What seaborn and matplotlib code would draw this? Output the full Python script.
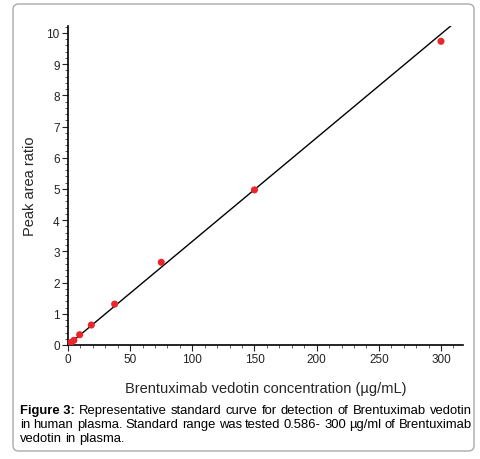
import numpy as np
import pandas as pd
import matplotlib
matplotlib.use("Agg")
import matplotlib.pyplot as plt
import seaborn as sns
from matplotlib.patches import FancyBboxPatch
from matplotlib.ticker import MultipleLocator

# standard curve data
conc = [0.586, 1.17, 2.34, 4.69, 9.38, 18.75, 37.5, 75, 150, 300]
ratio = [0.02, 0.04, 0.08, 0.15, 0.33, 0.64, 1.31, 2.65, 4.97, 9.73]

# fitted line end points
fit_x = [0, 309]
fit_y = [0.0, 10.26]

x_ticks = [0, 50, 100, 150, 200, 250, 300]
y_ticks = list(range(0, 11))

sns.set_style("ticks")
plt.rcParams['font.family'] = ['Liberation Sans', 'DejaVu Sans']

df = pd.DataFrame({'conc': conc, 'ratio': ratio})
fit_df = pd.DataFrame({'x': fit_x, 'y': fit_y})

fig = plt.figure(figsize=(4.81, 4.60), dpi=100)
ax = fig.add_axes([68/481, 114/460, 395/481, 319/460])

sns.lineplot(data=fit_df, x='x', y='y', color='black', linewidth=1.0, ax=ax)
sns.scatterplot(data=df, x='conc', y='ratio', color='#e8262b', s=26,
                edgecolor='none', ax=ax, zorder=3)

ax.set_xlim(0, 317.7)
ax.set_ylim(0, 10.22)
ax.set_xticks(x_ticks)
ax.set_yticks(y_ticks)
ax.xaxis.set_minor_locator(MultipleLocator(10))
ax.yaxis.set_minor_locator(MultipleLocator(0.2))
ax.tick_params(which='major', length=4, width=0.8, labelsize=8.5,
               colors='#222222', pad=2)
ax.tick_params(which='minor', length=2, width=0.6, colors='#444444')
sns.despine(ax=ax)
for s in ['left', 'bottom']:
    ax.spines[s].set_linewidth(1.2)
    ax.spines[s].set_color('black')

ax.set_xlabel('Brentuximab vedotin concentration (µg/mL)', fontsize=10.5)
ax.set_ylabel('Peak area ratio', fontsize=10.5)
ax.xaxis.set_label_coords(0.5, -0.112)
ax.yaxis.set_label_coords(-0.078, 0.5)

# rounded frame around figure and caption
box = FancyBboxPatch((13/481, 8/460), 461/481, 447/460,
                     boxstyle='round,pad=0,rounding_size=0.012',
                     transform=fig.transFigure, facecolor='none',
                     edgecolor='#aaaaaa', linewidth=1.0)
fig.patches.append(box)

# caption with justified lines
cap_lines = [
    [("Figure 3:", 'bold')] + [(w, 'normal') for w in
        "Representative standard curve for detection of Brentuximab vedotin".split()],
    [(w, 'normal') for w in
        "in human plasma. Standard range was tested 0.586- 300 µg/ml of Brentuximab".split()],
    [(w, 'normal') for w in "vedotin in plasma.".split()],
]
cap_base = [414, 428, 442]
x0, x1 = 20, 472
fig.canvas.draw()
renderer = fig.canvas.get_renderer()
for i, line in enumerate(cap_lines):
    texts = []
    for w, wt in line:
        t = fig.text(0, 1 - cap_base[i]/460, w, fontsize=9.4, fontweight=wt,
                     va='baseline', ha='left', color='black')
        texts.append(t)
    widths = [t.get_window_extent(renderer).width for t in texts]
    if i < len(cap_lines) - 1:
        gap = (x1 - x0 - sum(widths)) / (len(texts) - 1)
    else:
        gap = 3.6
    x = x0
    for t, wdt in zip(texts, widths):
        t.set_x(x / 481)
        x += wdt + gap

fig.savefig('out.png', dpi=100)
